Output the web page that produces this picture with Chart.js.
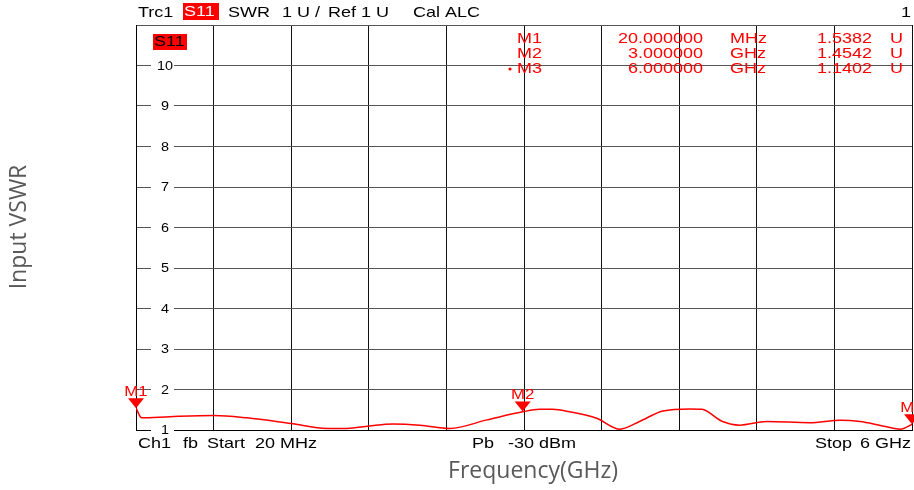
<!DOCTYPE html>
<html>
<head>
<meta charset="utf-8">
<script src="https://cdn.jsdelivr.net/npm/chart.js@4.4.1/dist/chart.umd.min.js"></script>
<style>
    html, body { margin: 0; padding: 0; background: #fff; }
    #vswrChart { display: block; }
</style>
</head>
<body>
<canvas id="vswrChart" width="914" height="490"></canvas>
<script>
// trace
const freqGHz = [0.02, 0.064, 0.282, 0.621, 0.875, 1.214, 1.492, 1.646, 1.816, 2.000, 2.208, 2.440,
    2.725, 3.000, 3.13, 3.23, 3.36, 3.57, 3.75, 3.90, 4.08, 4.29, 4.38, 4.54, 4.67, 4.88,
    5.21, 5.45, 5.60, 5.75, 5.91, 6.00];
const vswr = [1.54, 1.30, 1.33, 1.36, 1.30, 1.16, 1.04, 1.04, 1.10, 1.15, 1.12, 1.04,
    1.25, 1.45, 1.51, 1.51, 1.45, 1.29, 1.02, 1.21, 1.47, 1.52, 1.51, 1.21, 1.12, 1.21,
    1.18, 1.24, 1.21, 1.12, 1.02, 1.14];

const markerNames = ['M1', 'M2', 'M3'];
const markerFreqGHz = [0.02, 3.0, 6.0];
const markerVswr = [1.5382, 1.4542, 1.1402];
const markerFreqText = ['20.000000', '3.000000', '6.000000'];
const markerUnitText = ['MHz', 'GHz', 'GHz'];
const markerValueText = ['1.5382', '1.4542', '1.1402'];

const yTickLabels = ['1', '2', '3', '4', '5', '6', '7', '8', '9', '10'];

const RED = '#ff0000';
const FONT = '"Liberation Sans", Arial, sans-serif';
const STRETCH = 1.2;   // analyzer font is wider than Arial

// draws horizontally stretched text, like the instrument's screen font
function text(ctx, str, x, y, align) {
    const w = ctx.measureText(str).width * STRETCH;
    let left = x;
    if (align === 'center') left = x - w / 2;
    if (align === 'right') left = x - w;
    ctx.save();
    ctx.textAlign = 'left';
    ctx.translate(left, y);
    ctx.scale(STRETCH, 1);
    ctx.fillText(str, 0, 0);
    ctx.restore();
}

const screenPlugin = {
    id: 'screen',
    beforeDatasetsDraw(chart) {
        const ctx = chart.ctx;
        const y = chart.scales.y;
        ctx.save();
        ctx.font = '12px ' + FONT;
        ctx.textBaseline = 'middle';
        yTickLabels.forEach(label => {
            const py = y.getPixelForValue(Number(label));
            ctx.fillStyle = '#fff';
            ctx.fillRect(151, py - 2, 23, 4);
            ctx.fillStyle = '#000';
            text(ctx, label, 165, py + 1, 'center');
        });
        ctx.restore();
    },
    afterDatasetsDraw(chart) {
        const ctx = chart.ctx;
        const {x, y} = chart.scales;
        const area = chart.chartArea;
        ctx.save();
        ctx.textBaseline = 'middle';
        ctx.font = '15px ' + FONT;

        // header line
        ctx.fillStyle = '#000';
        text(ctx, 'Trc1', 138, 13);
        ctx.fillStyle = RED;
        ctx.fillRect(183, 3, 36, 17);
        ctx.fillStyle = '#fff';
        text(ctx, 'S11', 184, 12);
        ctx.fillStyle = '#000';
        text(ctx, 'SWR', 228, 13);
        text(ctx, '1 U /', 282, 13);
        text(ctx, 'Ref 1 U', 328, 13);
        text(ctx, 'Cal ALC', 413, 13);
        text(ctx, '1', 911, 13, 'right');

        // trace label inside the grid
        ctx.fillStyle = RED;
        ctx.fillRect(153, 34, 34, 16);
        ctx.fillStyle = '#000';
        text(ctx, 'S11', 154, 42);

        // marker table
        ctx.fillStyle = RED;
        markerNames.forEach((name, i) => {
            const ty = 39 + i * 15;
            text(ctx, name, 517, ty);
            text(ctx, markerUnitText[i], 730, ty);
            text(ctx, 'U', 890, ty);
            text(ctx, markerFreqText[i], 703, ty, 'right');
            text(ctx, markerValueText[i], 872, ty, 'right');
        });
        ctx.beginPath();
        ctx.arc(510, 69, 1.6, 0, Math.PI * 2);
        ctx.fill();

        // marker triangles on the trace
        ctx.font = '14px ' + FONT;
        markerNames.forEach((name, i) => {
            const px = x.getPixelForValue(markerFreqGHz[i]);
            const py = y.getPixelForValue(markerVswr[i]);
            ctx.beginPath();
            ctx.moveTo(px, py);
            ctx.lineTo(px - 8, py - 10);
            ctx.lineTo(px + 8, py - 10);
            ctx.closePath();
            ctx.fill();
            text(ctx, name, px, py - 16, 'center');
        });

        // footer line
        ctx.font = '15px ' + FONT;
        ctx.fillStyle = '#000';
        const fy = area.bottom + 14;
        text(ctx, 'Ch1', 138, fy);
        text(ctx, 'fb', 183, fy);
        text(ctx, 'Start', 207, fy);
        text(ctx, '20 MHz', 255, fy);
        text(ctx, 'Pb', 472, fy);
        text(ctx, '-30 dBm', 508, fy);
        text(ctx, 'Stop', 815, fy);
        text(ctx, '6 GHz', 911, fy, 'right');

        // axis titles
        ctx.font = '23px "Open Sans", sans-serif';
        ctx.fillStyle = '#595959';
        ctx.textAlign = 'center';
        ctx.fillText('Frequency(GHz)', 533, 471);
        ctx.translate(19, 227);
        ctx.rotate(-Math.PI / 2);
        ctx.fillText('Input VSWR', 0, 0);
        ctx.restore();
    }
};

new Chart(document.querySelector('#vswrChart'), {
    type: 'line',
    data: {
        datasets: [{
            data: freqGHz.map((f, i) => ({x: f, y: vswr[i]})),
            borderColor: RED,
            borderWidth: 1.5,
            pointRadius: 0,
            cubicInterpolationMode: 'monotone'
        }]
    },
    options: {
        responsive: false,
        devicePixelRatio: 1,
        animation: false,
        layout: {padding: {left: 136, top: 25, right: 2, bottom: 60}},
        plugins: {legend: {display: false}, tooltip: {enabled: false}},
        scales: {
            x: {
                type: 'linear',
                min: 0.02,
                max: 6,
                afterBuildTicks: scale => {
                    const step = (6 - 0.02) / 10;
                    scale.ticks = Array.from({length: 11}, (_, i) => ({value: 0.02 + i * step}));
                },
                ticks: {display: false},
                grid: {color: '#111', lineWidth: 1, drawTicks: false},
                border: {color: '#000', width: 1}
            },
            y: {
                min: 1,
                max: 11,
                ticks: {display: false, stepSize: 1},
                grid: {color: '#555', lineWidth: 1, drawTicks: false},
                border: {color: '#000', width: 1}
            }
        }
    },
    plugins: [screenPlugin]
});
</script>
</body>
</html>
